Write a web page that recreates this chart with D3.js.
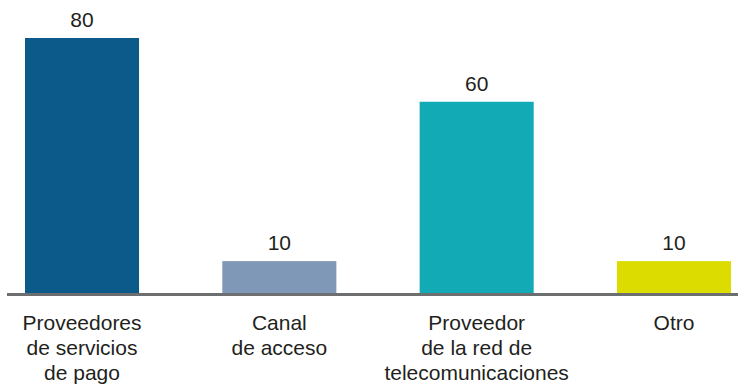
<!DOCTYPE html>
<html>
<head>
<meta charset="utf-8">
<script src="https://cdn.jsdelivr.net/npm/d3@7"></script>
<style>
  html, body { margin: 0; padding: 0; background: #ffffff; }
  svg { display: block; }
  text { font-family: "Liberation Sans", Arial, Helvetica, sans-serif; fill: #231f20; }
</style>
</head>
<body>
<svg id="chart" width="738" height="387"></svg>
<script>
// Categories (each entry is the list of label lines), values and bar colours
const categories = [
  ["Proveedores", "de servicios", "de pago"],
  ["Canal", "de acceso"],
  ["Proveedor", "de la red de", "telecomunicaciones"],
  ["Otro"]
];
const values = [80, 10, 60, 10];
const colors = ["#0b5a8a", "#7f98b8", "#12aab5", "#dcdc00"];

const svg = d3.select("#chart");
const keys = categories.map((c, i) => i);

const x = d3.scaleBand()
  .domain(keys)
  .range([25, 731])
  .paddingInner(0.422)
  .paddingOuter(0);

const y = d3.scaleLinear()
  .domain([0, 80])
  .range([293, 38]);

// Bars
svg.append("g")
  .selectAll("rect")
  .data(values)
  .join("rect")
  .attr("x", (d, i) => x(i))
  .attr("y", d => y(d))
  .attr("width", x.bandwidth())
  .attr("height", d => y(0) - y(d))
  .attr("fill", (d, i) => colors[i]);

// Value labels above bars
svg.append("g")
  .selectAll("text")
  .data(values)
  .join("text")
  .attr("x", (d, i) => x(i) + x.bandwidth() / 2)
  .attr("y", d => y(d) - 11)
  .attr("text-anchor", "middle")
  .style("font-size", "21px")
  .text(d => d);

// Baseline axis
svg.append("line")
  .attr("x1", 7)
  .attr("x2", 738)
  .attr("y1", y(0) + 1.5)
  .attr("y2", y(0) + 1.5)
  .attr("stroke", "#6d6e70")
  .attr("stroke-width", 3);

// Multi-line category labels
const lab = svg.append("g")
  .selectAll("text")
  .data(categories)
  .join("text")
  .attr("text-anchor", "middle")
  .style("font-size", "21px")
  .attr("x", (d, i) => x(i) + x.bandwidth() / 2)
  .attr("y", 330);

lab.selectAll("tspan")
  .data(d => d)
  .join("tspan")
  .attr("x", function () { return d3.select(this.parentNode).attr("x"); })
  .attr("dy", (d, j) => j === 0 ? 0 : 25)
  .text(d => d);
</script>
</body>
</html>
